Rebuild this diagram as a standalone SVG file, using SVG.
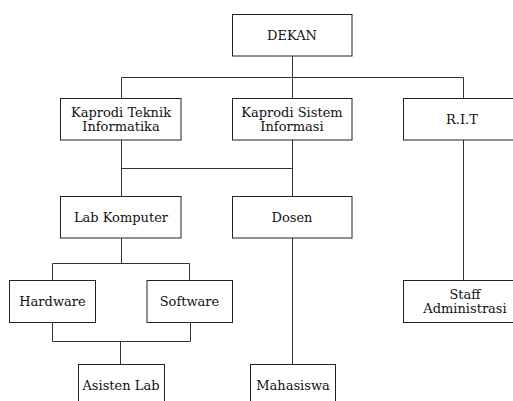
<svg xmlns="http://www.w3.org/2000/svg" width="513" height="401" viewBox="0 0 513 401">
  <style>
    .box { fill: #ffffff; stroke: #222222; stroke-width: 1; }
    .lbl { font-family: "DejaVu Serif", "Liberation Serif", serif; font-size: 13px; fill: #111111; text-anchor: middle; dominant-baseline: central; }
    .wire { fill: none; stroke: #333333; stroke-width: 1; }
  </style>
  <rect width="513" height="401" fill="#ffffff"/>

  <g id="connectors">
    <!-- DEKAN to first level -->
    <path class="wire" d="M292.5 56 V98 M121.5 98 V77.5 H463.5 V98"/>
    <!-- Kaprodi boxes to Lab Komputer / Dosen -->
    <path class="wire" d="M121.5 140 V196 M292.5 140 V196 M121.5 168.5 H292.5"/>
    <!-- Lab Komputer to Hardware / Software -->
    <path class="wire" d="M121.5 238 V263.5 M52.5 280 V263.5 H189.5 V280"/>
    <!-- Hardware / Software to Asisten Lab -->
    <path class="wire" d="M52.5 323 V341.5 H190.5 V323 M120.5 341.5 V364"/>
    <!-- Dosen to Mahasiswa -->
    <path class="wire" d="M292.5 238 V364"/>
    <!-- R.I.T to Staff Administrasi -->
    <path class="wire" d="M463.5 140 V280"/>
  </g>

  <g id="dekan">
    <rect class="box" x="232.5" y="14.5" width="119.5" height="41.5"/>
    <text class="lbl" x="292" y="35.5">DEKAN</text>
  </g>
  <g id="kaprodi-ti">
    <rect class="box" x="60.5" y="98.5" width="120.5" height="41.5"/>
    <text class="lbl" x="121" y="112.5">Kaprodi Teknik</text>
    <text class="lbl" x="121" y="126.5">Informatika</text>
  </g>
  <g id="kaprodi-si">
    <rect class="box" x="232.5" y="98.5" width="119.5" height="41.5"/>
    <text class="lbl" x="292" y="112.5">Kaprodi Sistem</text>
    <text class="lbl" x="292" y="126.5">Informasi</text>
  </g>
  <g id="rit">
    <rect class="box" x="403.5" y="98.5" width="120" height="41.5"/>
    <text class="lbl" x="462" y="119.5">R.I.T</text>
  </g>
  <g id="lab-komputer">
    <rect class="box" x="60.5" y="196.5" width="120.5" height="41.5"/>
    <text class="lbl" x="121" y="217.5">Lab Komputer</text>
  </g>
  <g id="dosen">
    <rect class="box" x="232.5" y="196.5" width="119.5" height="41.5"/>
    <text class="lbl" x="292" y="217.5">Dosen</text>
  </g>
  <g id="hardware">
    <rect class="box" x="9.5" y="280.5" width="86" height="42"/>
    <text class="lbl" x="52.5" y="301.5">Hardware</text>
  </g>
  <g id="software">
    <rect class="box" x="147" y="280.5" width="85.5" height="42"/>
    <text class="lbl" x="189.5" y="301.5">Software</text>
  </g>
  <g id="staff-administrasi">
    <rect class="box" x="403.5" y="280.5" width="120" height="42"/>
    <text class="lbl" x="465" y="294.5">Staff</text>
    <text class="lbl" x="465" y="308.5">Administrasi</text>
  </g>
  <g id="asisten-lab">
    <rect class="box" x="78.5" y="364.5" width="86" height="45"/>
    <text class="lbl" x="121" y="385.5">Asisten Lab</text>
  </g>
  <g id="mahasiswa">
    <rect class="box" x="250.5" y="364.5" width="85" height="45"/>
    <text class="lbl" x="293" y="385.5">Mahasiswa</text>
  </g>
</svg>
